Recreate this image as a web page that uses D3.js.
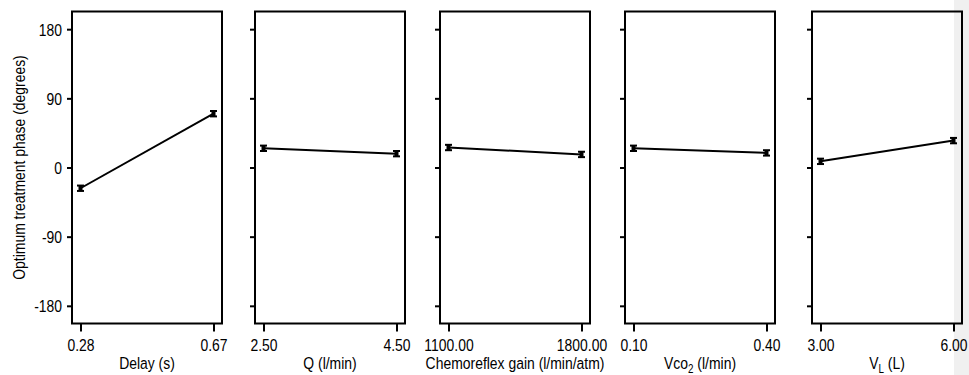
<!DOCTYPE html>
<html>
<head>
<meta charset="utf-8">
<script src="https://cdn.jsdelivr.net/npm/d3@7"></script>
<style>
  html, body { margin: 0; padding: 0; background: #ffffff; }
  svg { display: block; }
  text { font-family: 'Liberation Sans', Arial, sans-serif; fill: #000; }
</style>
</head>
<body>
<svg id="chart" width="969" height="375"></svg>
<script>
// ---- data ----
const titleMain = ["Delay (s)", "Q (l/min)", "Chemoreflex gain (l/min/atm)", "Vco", "V"];
const titleSub  = ["", "", "", "2", "L"];
const titleRest = ["", "", "", " (l/min)", " (L)"];
const lowLevels  = [0.28, 2.50, 1100, 0.10, 3.00];
const highLevels = [0.67, 4.50, 1800, 0.40, 6.00];
const lowLabels  = ["0.28", "2.50", "1100.00", "0.10", "3.00"];
const highLabels = ["0.67", "4.50", "1800.00", "0.40", "6.00"];
const phaseLow   = [-27, 25, 26, 25, 8];
const phaseHigh  = [70, 18, 17, 19, 35];
const errLow     = [3.5, 3.5, 3.5, 3.5, 3.5];
const errHigh    = [3.5, 3.5, 3.5, 3.5, 3.5];
const yTicks     = [-180, -90, 0, 90, 180];
const yTickLabels = ["-180", "-90", "0", "90", "180"];
const yTitle     = "Optimum treatment phase (degrees)";

// ---- layout ----
const svg = d3.select("#chart");
const panelLeft = [72, 255, 440, 625, 812];
const panelW = 150;
const plotTop = 11.5, plotBottom = 323.5;
const pad = 8.5;
const FS = 17;          // font size
const NARROW = 0.82;    // horizontal condensation (narrow sans look)

// gray strip at right edge
svg.append("rect").attr("x", 954).attr("y", 0).attr("width", 15).attr("height", 375).attr("fill", "#f0f0f0");

const y = d3.scaleLinear().domain([-203, 203]).range([plotBottom, plotTop]);

panelLeft.forEach((left, i) => {
  const g = svg.append("g");
  const x = d3.scaleLinear().domain([lowLevels[i], highLevels[i]]).range([left + pad, left + panelW - pad]);

  // y axis ticks
  const yAx = g.append("g").attr("transform", `translate(${left},0)`)
    .call(d3.axisLeft(y).tickValues(yTicks).tickSize(5).tickSizeOuter(0)
      .tickFormat((d, k) => i === 0 ? yTickLabels[k] : ""));
  yAx.select(".domain").remove();
  yAx.selectAll(".tick line").attr("stroke", "#000").attr("stroke-width", 2);
  yAx.selectAll(".tick text").attr("font-size", FS).attr("font-family", null)
    .attr("x", -10 / NARROW).attr("dy", "0.35em").attr("transform", `scale(${NARROW},1)`);

  // x axis ticks
  const lbl = [lowLabels[i], highLabels[i]];
  const xAx = g.append("g").attr("transform", `translate(0,${plotBottom})`)
    .call(d3.axisBottom(x).tickValues([lowLevels[i], highLevels[i]]).tickSize(8).tickSizeOuter(0)
      .tickFormat((d, k) => lbl[k]));
  xAx.select(".domain").remove();
  xAx.selectAll(".tick line").attr("stroke", "#000").attr("stroke-width", 2);
  xAx.selectAll(".tick text").attr("font-size", FS).attr("font-family", null)
    .attr("y", 15.5).attr("transform", `scale(${NARROW},1)`);

  // frame
  g.append("rect").attr("x", left).attr("y", plotTop).attr("width", panelW).attr("height", plotBottom - plotTop)
    .attr("fill", "none").attr("stroke", "#000").attr("stroke-width", 2);

  // data
  const pts = [
    {x: lowLevels[i], v: phaseLow[i], e: errLow[i]},
    {x: highLevels[i], v: phaseHigh[i], e: errHigh[i]}
  ];
  g.append("path").datum(pts)
    .attr("d", d3.line().x(d => x(d.x)).y(d => y(d.v)))
    .attr("fill", "none").attr("stroke", "#000").attr("stroke-width", 2);
  const eb = g.selectAll(".eb").data(pts).enter().append("g");
  eb.append("line").attr("x1", d => x(d.x)).attr("x2", d => x(d.x))
    .attr("y1", d => y(d.v - d.e)).attr("y2", d => y(d.v + d.e))
    .attr("stroke", "#000").attr("stroke-width", 4);
  eb.append("line").attr("x1", d => x(d.x) - 3.5).attr("x2", d => x(d.x) + 3.5)
    .attr("y1", d => y(d.v + d.e)).attr("y2", d => y(d.v + d.e))
    .attr("stroke", "#000").attr("stroke-width", 2);
  eb.append("line").attr("x1", d => x(d.x) - 3.5).attr("x2", d => x(d.x) + 3.5)
    .attr("y1", d => y(d.v - d.e)).attr("y2", d => y(d.v - d.e))
    .attr("stroke", "#000").attr("stroke-width", 2);

  // axis title
  const t = g.append("g").attr("transform", `translate(${left + panelW / 2},369)`)
    .append("text").attr("transform", `scale(${NARROW},1)`)
    .attr("text-anchor", "middle").attr("font-size", FS);
  t.append("tspan").text(titleMain[i]);
  if (titleSub[i]) {
    t.append("tspan").attr("font-size", 12).attr("dy", 4).text(titleSub[i]);
    t.append("tspan").attr("dy", -4).text(titleRest[i]);
  }
});

// y title
svg.append("g")
  .attr("transform", `translate(25,${(plotTop + plotBottom) / 2}) rotate(-90)`)
  .append("text").attr("transform", `scale(${NARROW},1)`)
  .attr("text-anchor", "middle").attr("font-size", FS)
  .text(yTitle);
</script>
</body>
</html>
